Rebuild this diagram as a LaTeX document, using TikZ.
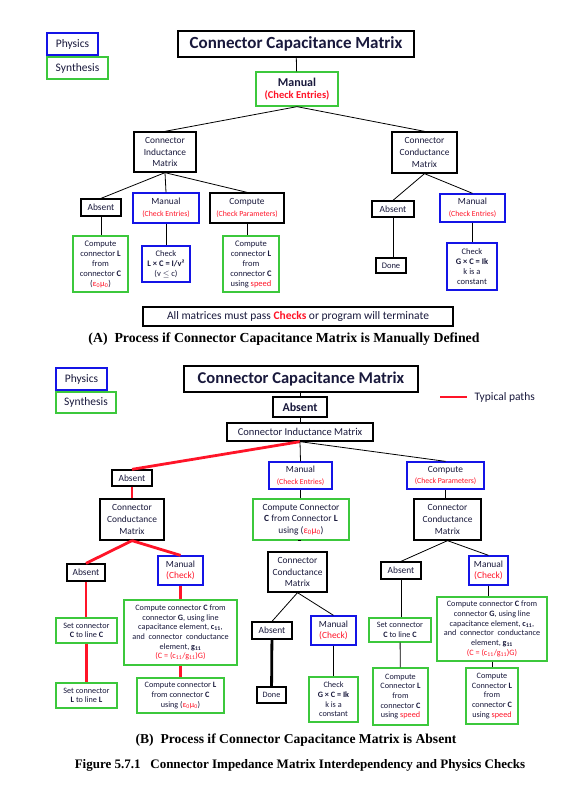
\documentclass[tikz,border=0pt]{standalone}
\usepackage{fontspec}
\setmainfont{Carlito}
\newfontfamily\capfont{Liberation Serif}
\usepackage{xcolor}
\definecolor{ink}{RGB}{25,25,60}
\definecolor{physblue}{RGB}{20,20,230}
\definecolor{synthgreen}{RGB}{60,200,60}
\definecolor{chkred}{RGB}{255,20,40}
\newcommand\chk[1]{{\color{chkred}#1}}
\newcommand\epsmu{ε\textsubscript{0}μ\textsubscript{0}}

\begin{document}
\begin{tikzpicture}[x=1pt,y=-1pt,
    box/.style={draw=black,line width=1.3pt,fill=white,align=center,inner sep=1pt,
      text=ink,font=\fontsize{9.4}{11.6}\selectfont},
    phys/.style={box,draw=physblue},
    synth/.style={box,draw=synthgreen},
    legend/.style={line width=2.4pt,font=\fontsize{11.5}{13}\selectfont},
    small/.style={font=\fontsize{8.5}{10}\selectfont},
    tiny/.style={font=\fontsize{8.2}{9.7}\selectfont},
    conn/.style={line width=0.8pt},
    typical/.style={chkred,line width=2.8pt},
    heavy/.style={line width=2.8pt},
    caption/.style={text=black,font=\capfont\bfseries\fontsize{#1}{15}\selectfont},
    caption/.default=13]
        \def\sub#1{\fontsize{7.8}{9}\selectfont\chk{#1}}

        \useasboundingbox[fill=white] (0,0) rectangle (587,795);

        %------------------
        % (A) manually defined
        %------------------

        \node[phys,legend,minimum width=51,minimum height=22] (physA) at (72.5,44) {Physics};
        \node[synth,legend,minimum width=61,minimum height=22] (synA) at (77.5,68) {Synthesis};

        \node[box,font=\fontsize{17}{20}\selectfont\bfseries,minimum width=236,minimum height=26] (titleA) at (296,44) {Connector Capacitance Matrix};
        \node[synth,font=\fontsize{12}{13}\selectfont\bfseries,minimum width=82,minimum height=34] (manA) at (297,89) {Manual\\[-1pt]{\fontsize{10.5}{12}\selectfont\chk{(Check Entries)}}};

        \node[box,minimum width=62,minimum height=40] (indA) at (165,152) {Connector\\Inductance\\Matrix};
        \node[box,minimum width=65,minimum height=41] (condA) at (424.5,152.5) {Connector\\Conductance\\Matrix};

        \node[box,minimum width=40,minimum height=17] (absA1) at (101,207.5) {Absent};
        \node[phys,minimum width=66,minimum height=30] (manA1) at (166,208) {Manual\\\sub{(Check Entries)}};
        \node[box,minimum width=74,minimum height=30] (cmpA1) at (247,208) {Compute\\\sub{(Check Parameters)}};
        \node[synth,small,minimum width=55,minimum height=56] (grnA1) at (100.5,264) {Compute\\connector \textbf{L}\\from\\connector \textbf{C}\\(\chk{\epsmu})};
        \node[phys,small,minimum width=48,minimum height=36] (chkA1) at (166,264) {Check\\\textbf{L × C = I/v²}\\(v $\le$ c)};
        \node[synth,small,minimum width=56,minimum height=56] (grnA2) at (251,264) {Compute\\connector \textbf{L}\\from\\connector \textbf{C}\\using \chk{speed}};

        \node[box,minimum width=42,minimum height=16] (absA2) at (393,209) {Absent};
        \node[phys,minimum width=65,minimum height=28] (manA2) at (472.5,208) {Manual\\\sub{(Check Entries)}};
        \node[box,small,minimum width=30,minimum height=15] (doneA) at (391,265.5) {Done};
        \node[phys,small,minimum width=50,minimum height=47] (chkA2) at (472,266.5) {Check\\\textbf{G × C = Ik}\\k is a\\constant};

        \node[box,line width=2.6pt,font=\fontsize{11.5}{13}\selectfont,minimum width=310,minimum height=19] (allA) at (298,316.5) {All matrices must pass \chk{\textbf{Checks}} or program will terminate};
        \node[caption=13.8] (capA) at (284,339) {(A)~~Process if Connector Capacitance Matrix is Manually Defined};

        \draw[conn] (titleA) -- (manA);
        \draw[conn] (manA.south) -- (indA.north);
        \draw[conn] (manA.south) -- (condA.north);
        \draw[conn] (indA.south) -- (absA1.north);
        \draw[conn] (indA.south) -- (manA1.north);
        \draw[conn] (indA.south) -- (cmpA1.north);
        \draw[conn] (absA1.south) -- (absA1.south |- grnA1.north);
        \draw[conn] (manA1.south) -- (manA1.south |- chkA1.north);
        \draw[conn] (cmpA1.south) -- (cmpA1.south |- grnA2.north);
        \draw[conn] (condA.south) -- (absA2.north);
        \draw[conn] (condA.south) -- (manA2.north);
        \draw[conn] (absA2.south) -- (absA2.south |- doneA.north);
        \draw[conn] (manA2.south) -- (manA2.south |- chkA2.north);

        %------------------
        % (B) absent
        %------------------

        \node[phys,legend,minimum width=51,minimum height=22] (physB) at (81.5,379) {Physics};
        \node[synth,legend,minimum width=60,minimum height=21] (synB) at (86,402.5) {Synthesis};

        \node[box,font=\fontsize{16.5}{20}\selectfont\bfseries,minimum width=234,minimum height=26] (titleB) at (301,379) {Connector Capacitance Matrix};
        \node[box,font=\fontsize{12}{14}\selectfont\bfseries,minimum width=54,minimum height=20] (absB) at (300,407) {Absent};
        \node[box,font=\fontsize{10.5}{12}\selectfont,minimum width=146,minimum height=18] (indB) at (300,432) {Connector Inductance Matrix};

        % legend
        \coordinate (legL) at (440,397);
        \coordinate (legR) at (467,397);
        \draw[typical] (legL) -- (legR);
        \node[anchor=west,text=ink,font=\fontsize{11.5}{13}\selectfont] (legT) at (471,397) {Typical paths};

        \node[box,minimum width=40,minimum height=16] (absB1) at (132,478) {Absent};
        \node[box,minimum width=64,minimum height=41] (condB1) at (132,519.5) {Connector\\Conductance\\Matrix};
        \node[phys,minimum width=63,minimum height=27] (manB2) at (300.5,475.5) {Manual\\\sub{(Check Entries)}};
        \node[synth,minimum width=96,minimum height=41] (grnB2) at (301,519.5) {Compute Connector\\\textbf{C} from Connector \textbf{L}\\using (\chk{\epsmu})};
        \node[phys,minimum width=77,minimum height=27] (cmpB3) at (445.5,475.5) {Compute\\\sub{(Check Parameters)}};
        \node[box,minimum width=67,minimum height=41] (condB3) at (447.5,519.5) {Connector\\Conductance\\Matrix};

        \node[box,minimum width=38,minimum height=17] (absB11) at (86,572.5) {Absent};
        \node[phys,minimum width=45,minimum height=29] (manB12) at (180.5,570.5) {Manual\\\chk{(Check)}};
        \node[synth,tiny,minimum width=61,minimum height=25] (setCB1) at (86.5,630.5) {Set connector\\\textbf{C} to line \textbf{C}};
        \node[synth,tiny,minimum width=61,minimum height=25] (setLB1) at (86.5,695.5) {Set connector\\\textbf{L} to line \textbf{L}};
        \node[synth,tiny,minimum width=113,minimum height=65] (cmpCB1) at (180.5,632.5) {Compute connector \textbf{C} from\\connector \textbf{G}, using line\\capacitance element, \textbf{c\textsubscript{11}},\\and~ connector~ conductance\\element, \textbf{g\textsubscript{11}}\\\chk{(C = (c\textsubscript{11}/g\textsubscript{11})G)}};
        \node[synth,tiny,minimum width=87,minimum height=35] (cmpLB1) at (180.5,695.5) {Compute connector \textbf{L}\\from connector \textbf{C}\\using (\chk{\epsmu})};

        \node[box,minimum width=59,minimum height=40] (condB2) at (297.5,572) {Connector\\Conductance\\Matrix};
        \node[box,minimum width=40,minimum height=17] (absB21) at (272,630.5) {Absent};
        \node[phys,minimum width=45,minimum height=29] (manB22) at (333.5,630.5) {Manual\\\chk{(Check)}};
        \node[box,tiny,minimum width=29,minimum height=16] (doneB) at (271.5,695) {Done};
        \node[synth,tiny,minimum width=49,minimum height=45] (chkB2) at (333.5,699.5) {Check\\\textbf{G × C = Ik}\\k is a\\constant};

        \node[box,minimum width=40,minimum height=17] (absB31) at (401,570.5) {Absent};
        \node[phys,minimum width=39,minimum height=29] (manB32) at (488.5,570.5) {Manual\\\chk{(Check)}};
        \node[synth,tiny,minimum width=62,minimum height=24] (setCB3) at (400,630) {Set connector\\\textbf{C} to line \textbf{C}};
        \node[synth,tiny,minimum width=110,minimum height=64] (cmpCB3) at (492,629) {Compute connector \textbf{C} from\\connector \textbf{G}, using line\\capacitance element, \textbf{c\textsubscript{11}},\\and~ connector~ conductance\\element, \textbf{g\textsubscript{11}}\\\chk{(C = (c\textsubscript{11}/g\textsubscript{11})G)}};
        \node[synth,tiny,minimum width=55,minimum height=57] (cmpLB31) at (400.5,696.5) {Compute\\Connector \textbf{L}\\from\\connector \textbf{C}\\using \chk{speed}};
        \node[synth,tiny,minimum width=52,minimum height=56] (cmpLB32) at (492,696) {Compute\\Connector \textbf{L}\\from\\connector \textbf{C}\\using \chk{speed}};

        \node[caption=13.6] (capB) at (296,740) {(B)~~Process if Connector Capacitance Matrix is Absent};
        \node[caption] (figcap) at (300,765) {Figure 5.7.1~~~Connector Impedance Matrix Interdependency and Physics Checks};

        % connectors
        \draw[conn] (titleB) -- (absB);
        \draw[conn] (absB) -- (indB);
        \draw[typical] (indB.south) -- (absB1.north);
        \draw[conn] (indB.south) -- (manB2.north);
        \draw[conn] (indB.south) -- (cmpB3.north);
        \draw[typical] (absB1) -- (condB1);
        \draw[conn] (manB2.south) -- (manB2.south |- grnB2.north);
        \draw[conn] (cmpB3.south) -- (cmpB3.south |- condB3.north);

        \draw[typical] (condB1.south) -- (absB11.north);
        \draw[typical] (condB1.south) -- (manB12.north);
        \draw[typical] (absB11.south) -- (absB11.south |- setCB1.north);
        \draw[typical] (setCB1) -- (setLB1);
        \draw[typical] (manB12.south) -- (manB12.south |- cmpCB1.north);
        \draw[typical] (cmpCB1) -- (cmpLB1);

        \draw[conn] (grnB2.south) -- (grnB2.south -| condB2.north);
        \draw[conn] (condB2.south) -- (absB21.north);
        \draw[conn] (condB2.south) -- (manB22.north);
        \draw[heavy] (absB21) -- (doneB);
        \draw[conn] (manB22.south) -- (manB22.south |- chkB2.north);

        \draw[conn] (condB3.south) -- (absB31.north);
        \draw[conn] (condB3.south) -- (manB32.north);
        \draw[conn] (absB31.south) -- (absB31.south |- setCB3.north);
        \draw[conn] (setCB3) -- (cmpLB31);
        \draw[conn] (manB32.south) -- (manB32.south |- cmpCB3.north);
        \draw[conn] (cmpCB3) -- (cmpLB32);
      \end{tikzpicture}
\end{document}
